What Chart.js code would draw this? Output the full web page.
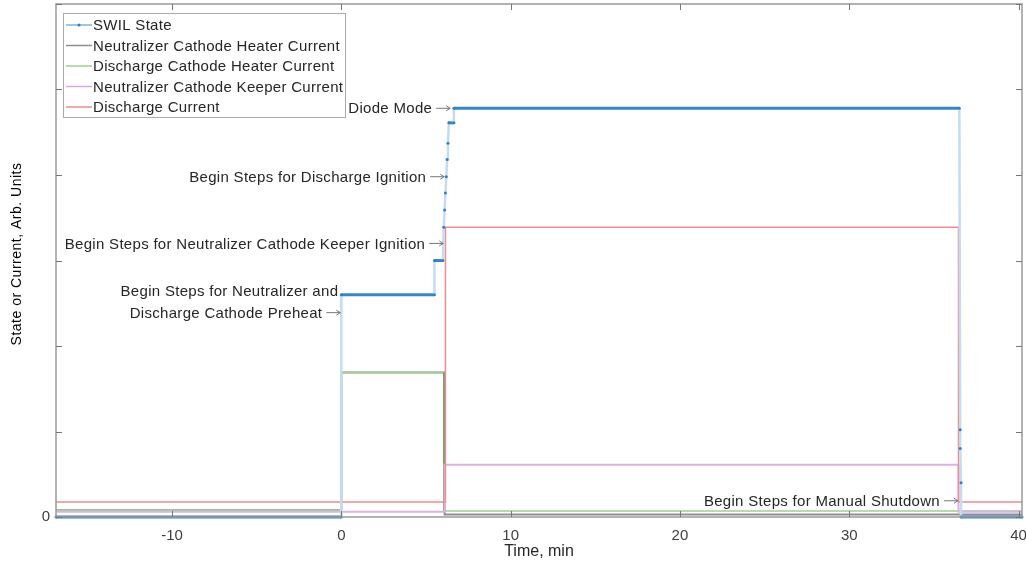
<!DOCTYPE html>
<html>
<head>
<meta charset="utf-8">
<script src="https://cdn.jsdelivr.net/npm/chart.js@4.4.1/dist/chart.umd.min.js"></script>
<style>
  html, body { margin: 0; padding: 0; background: #fff; }
  #wrap { width: 1026px; height: 565px; position: relative; }
</style>
</head>
<body>
<div id="wrap"><canvas id="c" width="1026" height="565"></canvas></div>
<script>
// --- data (time in min, value in arb. units) ---
const xMin = -16.85, xMax = 40.2;
const xTicks = [-10, 0, 10, 20, 30, 40];
const yTicks = [0, 1, 2, 3, 4, 5, 6];

const swilTime  = [-16.85, 0, 0, 5.5, 5.5, 6.0, 6.05, 6.1, 6.15, 6.2, 6.25, 6.3, 6.35, 6.65, 6.65, 36.5, 36.55, 36.55, 36.6, 36.6, 40.2];
const swilState = [0, 0, 2.6, 2.6, 3.0, 3.0, 3.39, 3.59, 3.79, 3.98, 4.18, 4.37, 4.61, 4.61, 4.78, 4.78, 1.02, 0.8, 0.4, 0, 0];

const neutHeatTime = [-16.85, 0, 0, 6.1, 6.1, 40.2];
const neutHeat     = [0.08, 0.08, 1.69, 1.69, 0.03, 0.03];

const dischHeatTime = [-16.85, 0, 0, 6.05, 6.05, 40.2];
const dischHeat     = [0.08, 0.08, 1.69, 1.69, 0.07, 0.07];

const keeperTime = [-16.85, 6.1, 6.1, 36.45, 36.45, 40.2];
const keeper     = [0.06, 0.06, 0.61, 0.61, 0.06, 0.06];

const dischTime = [-16.85, 6.15, 6.15, 36.45, 36.45, 40.2];
const disch     = [0.175, 0.175, 3.39, 3.39, 0.175, 0.175];

const notes = [
    { x: 6.43, y: 4.78, lines: ['Diode Mode'] },
    { x: 6.08, y: 3.98, lines: ['Begin Steps for Discharge Ignition'] },
    { x: 6.02, y: 3.2, lines: ['Begin Steps for Neutralizer Cathode Keeper Ignition'] },
    { x: -0.06, y: 2.39, lines: ['Begin Steps for Neutralizer and', 'Discharge Cathode Preheat'] },
    { x: 36.42, y: 0.19, lines: ['Begin Steps for Manual Shutdown'] }
];

const FONT = '"Liberation Sans", Arial, sans-serif';
const TXT = '#262626';

function pts(xs, ys) { return xs.map((x, i) => ({ x: x, y: ys[i] })); }

// --- plugin: box, inward ticks, annotations, legend, y title ---
const matlabLook = {
    id: 'matlabLook',
    afterDatasetsDraw(chart) {
        const ctx = chart.ctx, a = chart.chartArea;
        const sx = chart.scales.x, sy = chart.scales.y;
        ctx.save();

        // axes box
        ctx.strokeStyle = '#9a9a9a';
        ctx.lineWidth = 1.5;
        ctx.strokeRect(a.left, a.top, a.right - a.left, a.bottom - a.top);

        // inward ticks
        ctx.lineWidth = 1;
        ctx.strokeStyle = '#777';
        ctx.beginPath();
        xTicks.forEach(t => {
            const px = Math.round(sx.getPixelForValue(t)) + 0.5;
            ctx.moveTo(px, a.bottom); ctx.lineTo(px, a.bottom - 6);
            ctx.moveTo(px, a.top); ctx.lineTo(px, a.top + 6);
        });
        yTicks.forEach(t => {
            const py = Math.round(sy.getPixelForValue(t)) + 0.5;
            ctx.moveTo(a.left, py); ctx.lineTo(a.left + 6, py);
            ctx.moveTo(a.right, py); ctx.lineTo(a.right - 6, py);
        });
        ctx.stroke();

        // annotations with arrows (lines right-aligned, arrow on the last one)
        ctx.font = '15px ' + FONT;
        ctx.letterSpacing = '0.3px';
        ctx.textBaseline = 'middle';
        ctx.textAlign = 'right';
        notes.forEach(n => {
            const ex = sx.getPixelForValue(n.x), ey = sy.getPixelForValue(n.y);
            ctx.strokeStyle = '#777';
            ctx.beginPath();
            ctx.moveTo(ex - 14, ey); ctx.lineTo(ex, ey);
            ctx.moveTo(ex - 4, ey - 2.5); ctx.lineTo(ex, ey); ctx.lineTo(ex - 4, ey + 2.5);
            ctx.stroke();
            ctx.fillStyle = TXT;
            const last = n.lines.length - 1;
            n.lines.forEach((s, i) => {
                const tx = i === last ? ex - 18 : ex - 2;
                ctx.fillText(s, tx, ey + 1 - (last - i) * 22);
            });
        });

        // legend
        const items = [
            { label: 'SWIL State', color: '#3d8fd6', dot: true },
            { label: 'Neutralizer Cathode Heater Current', color: '#8f8f8f' },
            { label: 'Discharge Cathode Heater Current', color: '#9fd08a' },
            { label: 'Neutralizer Cathode Keeper Current', color: '#d9a9e6' },
            { label: 'Discharge Current', color: '#f28b8b' }
        ];
        ctx.fillStyle = '#fff';
        ctx.fillRect(63, 13, 282, 104);
        ctx.strokeStyle = '#aaa';
        ctx.lineWidth = 1;
        ctx.strokeRect(63.5, 13.5, 282, 104);
        ctx.textAlign = 'left';
        items.forEach((it, i) => {
            const y = 25 + i * 20.5;
            ctx.strokeStyle = it.color;
            ctx.lineWidth = it.dot ? 1 : 1.5;
            ctx.beginPath(); ctx.moveTo(66, y); ctx.lineTo(92, y); ctx.stroke();
            if (it.dot) {
                ctx.fillStyle = '#2f7fc8';
                ctx.beginPath(); ctx.arc(79, y, 1.5, 0, Math.PI * 2); ctx.fill();
            }
            ctx.fillStyle = TXT;
            ctx.fillText(it.label, 93, y + 1);
        });

        // y title
        ctx.save();
        ctx.translate(17, 254);
        ctx.rotate(-Math.PI / 2);
        ctx.textAlign = 'center';
        ctx.font = '14px ' + FONT;
        ctx.letterSpacing = '0.5px';
        ctx.fillStyle = '#000';
        ctx.fillText('State or Current, Arb. Units', 0, 0);
        ctx.restore();

        ctx.restore();
    }
};

const isFlat = c => c.p0.parsed.y === c.p1.parsed.y;

new Chart(document.getElementById('c'), {
    type: 'line',
    data: {
        datasets: [
            {
                label: 'Discharge Current', data: pts(dischTime, disch),
                borderColor: '#f28b8b', borderWidth: 1.5, pointRadius: 0, order: 1
            },
            {
                label: 'Neutralizer Cathode Keeper Current', data: pts(keeperTime, keeper),
                borderColor: '#dcb0e8', borderWidth: 2, pointRadius: 0, order: 2
            },
            {
                label: 'Discharge Cathode Heater Current', data: pts(dischHeatTime, dischHeat),
                borderColor: '#9fd08a', borderWidth: 1.5, pointRadius: 0, order: 3,
                segment: { borderColor: c => isFlat(c) ? '#9fd08a' : '#6fa86a' }
            },
            {
                label: 'Neutralizer Cathode Heater Current', data: pts(neutHeatTime, neutHeat),
                borderColor: '#8f8f8f', borderWidth: 2, pointRadius: 0, order: 4
            },
            {
                label: 'SWIL State', data: pts(swilTime, swilState),
                borderColor: '#3d8fd6', borderWidth: 3, order: 0,
                pointRadius: 1.5, pointBackgroundColor: '#2f7fc8', pointBorderWidth: 0,
                segment: {
                    borderColor: c => isFlat(c) ? '#3585d2' : '#c3dcf3',
                    borderWidth: c => isFlat(c) ? 3 : 2.5
                }
            }
        ]
    },
    options: {
        responsive: false,
        animation: false,
        clip: false,
        layout: { padding: { top: 4, right: 4, left: 0, bottom: 0 } },
        plugins: { legend: { display: false }, tooltip: { enabled: false } },
        elements: { line: { tension: 0 } },
        scales: {
            x: {
                type: 'linear', min: xMin, max: xMax,
                afterFit: s => { s.height = 48; s.paddingLeft = 0; s.paddingRight = 0; },
                afterBuildTicks: s => { s.ticks = xTicks.map(v => ({ value: v })); },
                grid: { display: false, drawTicks: false },
                border: { display: false },
                ticks: { padding: 10, color: '#404040', font: { family: FONT, size: 15 }, maxRotation: 0 },
                title: { display: true, text: 'Time, min', color: TXT, font: { family: FONT, size: 16 }, padding: { top: 0 } }
            },
            y: {
                type: 'linear', min: 0, max: 6,
                afterFit: s => { s.width = 56; s.paddingTop = 0; s.paddingBottom = 0; },
                afterBuildTicks: s => { s.ticks = yTicks.map(v => ({ value: v })); },
                grid: { display: false, drawTicks: false },
                border: { display: false },
                ticks: { padding: 6, color: '#404040', font: { family: FONT, size: 15 },
                         callback: v => v === 0 ? '0' : '' }
            }
        }
    },
    plugins: [matlabLook]
});
</script>
</body>
</html>
